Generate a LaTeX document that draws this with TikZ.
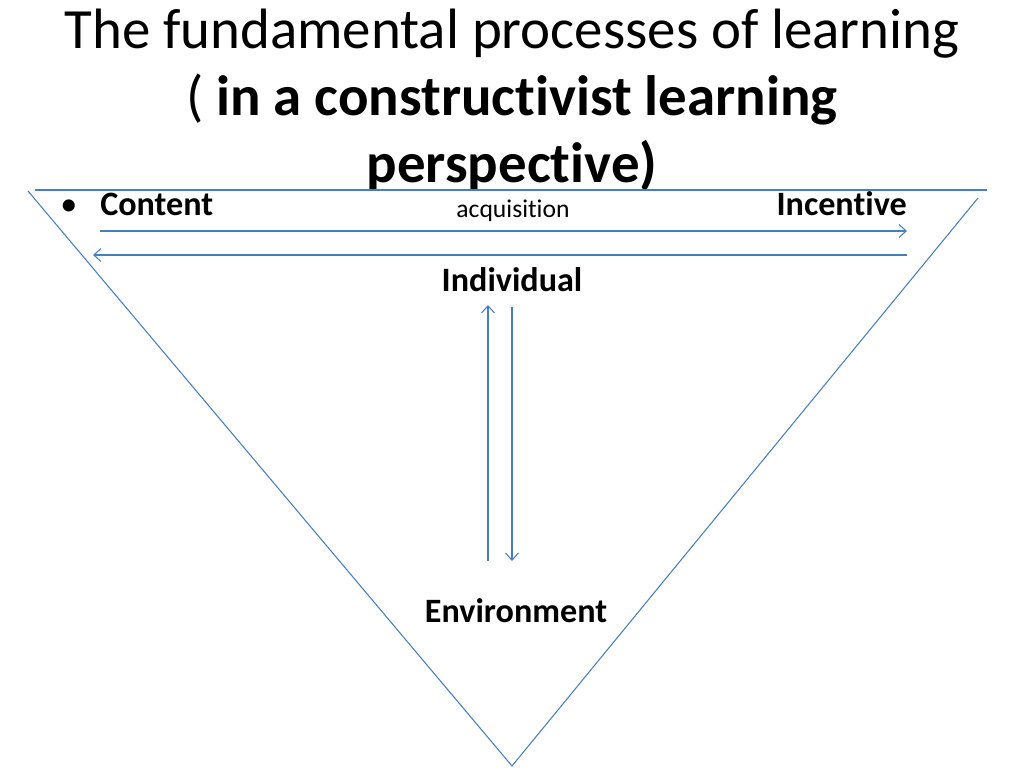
\documentclass[tikz,border=0pt]{standalone}
\usepackage{fontspec}
\setmainfont{Carlito}[Ligatures={NoCommon}]
\usetikzlibrary{arrows.meta, positioning}
\definecolor{slideblue}{HTML}{4A7EBB}

\begin{document}
\begin{tikzpicture}[x=0.703125pt, y=-0.703125pt,
    edge/.style={slideblue, line width=0.75pt},
    flow/.style={edge, -{Straight Barb[length=5pt, width=9pt]}},
    titleline/.style={font=\fontsize{40}{48}\selectfont, inner sep=0pt, anchor=base},
    term/.style={font=\fontsize{24}{28}\selectfont\bfseries, inner sep=0pt},
    small/.style={font=\fontsize{18}{22}\selectfont, inner sep=0pt}]
\useasboundingbox (0,0) rectangle (1024,768);

% title
\node[titleline] (title1) at (512,49) {The fundamental processes of learning};
\node[titleline] (title2) at (512,116) {( \textbf{in a constructivist learning}};
\node[titleline] (title3) at (512,183) {\textbf{perspective)}};

% triangle
\coordinate (topleft) at (28,191);
\coordinate (topright) at (978,198);
\coordinate (bottom) at (512,766);
\draw[edge] (35,190) -- (987,190);
\draw[edge] (topleft) -- (bottom) -- (topright);

% labels
\node[term, font=\fontsize{24}{28}\selectfont, anchor=base west] (bullet) at (60,216) {•};
\node[term, anchor=base west] (content) at (100,216) {Content};
\node[term, anchor=base east] (incentive) at (907,216) {Incentive};
\node[small, anchor=base] (acq) at (513,218) {acquisition};
\node[term, anchor=base] (individual) at (512,292) {Individual};
\node[term, anchor=base] (environment) at (516,622) {Environment};

% arrows
\coordinate (c1) at (100,231);
\coordinate (i1) at (907,231);
\coordinate (c2) at (93,255);
\coordinate (i2) at (907,255);
\draw[flow] (c1) -- (i1);
\draw[flow] (i2) -- (c2);

\coordinate (up bot) at (488,561);
\coordinate (up top) at (488,305);
\coordinate (dn top) at (512,307);
\coordinate (dn bot) at (512,561);
\draw[flow] (up bot) -- (up top);
\draw[flow] (dn top) -- (dn bot);
\end{tikzpicture}
\end{document}
